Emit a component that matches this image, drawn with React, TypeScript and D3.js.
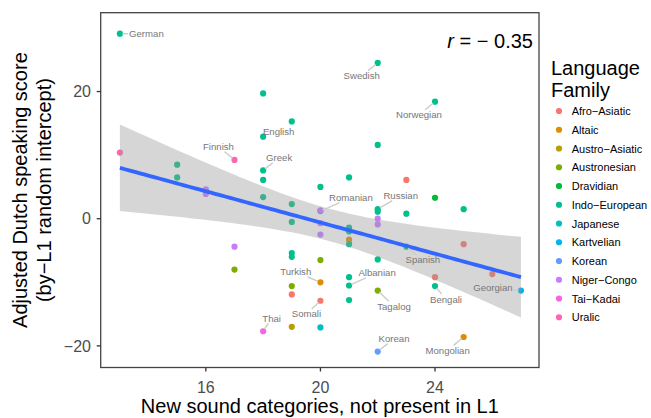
import React from "react";
import * as d3 from "d3";

const families = ["Afro−Asiatic", "Altaic", "Austro−Asiatic", "Austronesian", "Dravidian", "Indo−European", "Japanese", "Kartvelian", "Korean", "Niger−Congo", "Tai−Kadai", "Uralic"];
const familyColors = ["#F8766D", "#DE8C00", "#B79F00", "#7CAE00", "#00BA38", "#00C08B", "#00BFC4", "#00B4F0", "#619CFF", "#C77CFF", "#F564E3", "#FF64B0"];

// new sound categories (x), adjusted score (y), family, label
const soundCats = [13, 13, 15, 15, 16, 16, 17, 17, 17, 18, 18, 18, 18, 18, 18, 19, 19, 19, 19, 19, 19, 19, 19, 20, 20, 20, 20, 20, 20, 20, 20, 20, 21, 21, 21, 21, 21, 21, 21, 21, 22, 22, 22, 22, 22, 22, 22, 22, 22, 23, 23, 23, 24, 24, 24, 24, 25, 25, 25, 26, 27];
const scores = [29.1, 10.4, 8.5, 6.5, 4.6, 3.9, 9.25, -4.4, -8.0, 19.7, 12.9, 7.6, 6.1, 3.4, -17.7, 15.3, 2.3, -0.5, -5.4, -6.0, -10.6, -11.9, -17.0, 5.0, 1.2, 1.3, -0.7, -2.5, -6.5, -10.0, -12.9, -17.1, 6.5, -1.4, -2.0, -3.3, -4.0, -9.2, -10.5, -12.8, 24.5, 11.6, 1.5, 1.1, 0.0, -0.9, -6.4, -11.3, -20.9, 6.1, 0.8, -4.4, 18.4, 3.3, -9.2, -10.6, 1.5, -4.0, -18.6, -8.7, -11.3];
const familyOf = ["Indo−European", "Uralic", "Indo−European", "Indo−European", "Niger−Congo", "Niger−Congo", "Uralic", "Niger−Congo", "Austronesian", "Indo−European", "Indo−European", "Indo−European", "Indo−European", "Indo−European", "Tai−Kadai", "Indo−European", "Indo−European", "Indo−European", "Indo−European", "Indo−European", "Austronesian", "Afro−Asiatic", "Austro−Asiatic", "Indo−European", "Indo−European", "Niger−Congo", "Niger−Congo", "Niger−Congo", "Austronesian", "Altaic", "Afro−Asiatic", "Japanese", "Indo−European", "Indo−European", "Indo−European", "Altaic", "Indo−European", "Indo−European", "Indo−European", "Indo−European", "Indo−European", "Indo−European", "Indo−European", "Indo−European", "Niger−Congo", "Niger−Congo", "Indo−European", "Austronesian", "Korean", "Afro−Asiatic", "Indo−European", "Indo−European", "Indo−European", "Dravidian", "Afro−Asiatic", "Indo−European", "Indo−European", "Afro−Asiatic", "Altaic", "Afro−Asiatic", "Kartvelian"];
const langNames = ["German", "", "", "", "", "", "Finnish", "", "", "", "English", "Greek", "", "", "Thai", "", "", "", "", "", "", "", "", "", "Romanian", "", "", "", "", "Turkish", "Somali", "", "", "", "", "", "", "", "Albanian", "", "Swedish", "", "Russian", "", "", "", "", "Tagalog", "Korean", "", "", "Spanish", "Norwegian", "", "", "Bengali", "", "", "Mongolian", "", "Georgian"];

const xTicks = [16, 20, 24];
const yTicks = [-20, 0, 20];
const corrText = "−0.35";

// label placement offsets (pixels, relative to point)
const labelOffsets: Record<string, [number, number]> = {
  German: [26.5, 0], Finnish: [-16, -13.3], English: [15.5, -5], Greek: [16, -12.4],
  Swedish: [-16, 12.7], Norwegian: [-16, 13], Romanian: [30.5, -13.4], Russian: [23, -13.6],
  Spanish: [16.5, 13.3], Albanian: [28, -12.6], Turkish: [-24.7, -10.3], Somali: [-14, 13.3],
  Thai: [8.5, -13], Tagalog: [16.3, 15.7], Korean: [16.3, -13], Bengali: [11, 13],
  Georgian: [-28, -3], Mongolian: [-16, 13.4],
};

const FONT = "'Liberation Sans', Arial, Helvetica, sans-serif";
const LABEL_SIZE = 9.6;

function tQuantile975(df: number) {
  const z = 1.959964;
  return z + (z ** 3 + z) / (4 * df) + (5 * z ** 5 + 16 * z ** 3 + 3 * z) / (96 * df * df);
}

let ctx: CanvasRenderingContext2D | null = null;
function textWidth(s: string, size: number) {
  if (!ctx) ctx = document.createElement("canvas").getContext("2d");
  if (!ctx) return s.length * size * 0.5;
  ctx.font = `${size}px 'Liberation Sans', Arial, sans-serif`;
  return ctx.measureText(s).width;
}

export default function App() {
  const W = 651, H = 418;
  const pL = 100.7, pR = 539, pT = 12.7, pB = 367.5;
  const x = d3.scaleLinear().domain([12.33, 27.63]).range([pL, pR]);
  const y = d3.scaleLinear().domain([-23.4, 32.4]).range([pB, pT]);
  const color = d3.scaleOrdinal<string, string>().domain(families).range(familyColors);

  const pts = soundCats.map((sx, i) => ({ x: sx, y: scores[i], fam: familyOf[i], name: langNames[i] }));

  // linear fit with 95% CI
  const n = pts.length;
  const xm = d3.mean(pts, (d) => d.x)!;
  const ym = d3.mean(pts, (d) => d.y)!;
  const sxx = d3.sum(pts, (d) => (d.x - xm) ** 2);
  const sxy = d3.sum(pts, (d) => (d.x - xm) * (d.y - ym));
  const b = sxy / sxx;
  const a = ym - b * xm;
  const sse = d3.sum(pts, (d) => (d.y - (a + b * d.x)) ** 2);
  const s = Math.sqrt(sse / (n - 2));
  const tq = tQuantile975(n - 2);
  const [xmin, xmax] = d3.extent(pts, (d) => d.x) as [number, number];
  const grid = d3.range(0, 81).map((k) => xmin + ((xmax - xmin) * k) / 80);
  const fit = grid.map((gx) => {
    const f = a + b * gx;
    const se = s * Math.sqrt(1 / n + (gx - xm) ** 2 / sxx);
    return { x: gx, f, lo: f - tq * se, hi: f + tq * se };
  });
  const area = d3.area<typeof fit[0]>().x((d) => x(d.x)).y0((d) => y(d.lo)).y1((d) => y(d.hi));
  const line = d3.line<typeof fit[0]>().x((d) => x(d.x)).y((d) => y(d.f));

  const labels = pts.filter((d) => d.name).map((d) => {
    const px = x(d.x), py = y(d.y);
    const off = labelOffsets[d.name] || [10, -10];
    const cx = px + off[0], cy = py + off[1];
    const hw = textWidth(d.name, LABEL_SIZE) / 2 + 1, hh = 5;
    const dx = px - cx, dy = py - cy;
    const t = Math.min(dx !== 0 ? hw / Math.abs(dx) : Infinity, dy !== 0 ? hh / Math.abs(dy) : Infinity);
    const ex = cx + dx * Math.min(t, 1), ey = cy + dy * Math.min(t, 1);
    const len = Math.hypot(ex - px, ey - py);
    const sx0 = px + ((ex - px) / (len || 1)) * 2.5, sy0 = py + ((ey - py) / (len || 1)) * 2.5;
    return { name: d.name, cx, cy, seg: len > 6 && t < 1 ? [sx0, sy0, ex, ey] : null };
  });

  const legendY0 = 111, legendStep = 18.75;

  return (
    <svg width={W} height={H} style={{ position: "absolute", left: 0, top: 0, background: "#fff" }} fontFamily={FONT}>
      <rect x={0} y={0} width={W} height={H} fill="#fff" />
      {/* points */}
      {pts.map((d, i) => (
        <circle key={i} cx={x(d.x)} cy={y(d.y)} r={3.1} fill={color(d.fam)} />
      ))}
      {/* smooth */}
      <path d={area(fit)!} fill="#999999" fillOpacity={0.4} />
      <path d={line(fit)!} fill="none" stroke="#3366FF" strokeWidth={3.8} />
      {/* label segments + text */}
      {labels.map((l) =>
        l.seg ? (
          <line key={"s" + l.name} x1={l.seg[0]} y1={l.seg[1]} x2={l.seg[2]} y2={l.seg[3]} stroke="#cccccc" strokeWidth={1.4} />
        ) : null
      )}
      {labels.map((l) => (
        <text key={"t" + l.name} x={l.cx} y={l.cy + 3.4} fontSize={LABEL_SIZE} fill="#777777" textAnchor="middle">
          {l.name}
        </text>
      ))}
      {/* correlation */}
      <text x={533} y={48} fontSize={20} textAnchor="end" fill="#000">
        <tspan fontStyle="italic">r</tspan> = {corrText.replace("−", "− ")}
      </text>
      {/* panel border */}
      <rect x={pL} y={pT} width={pR - pL} height={pB - pT} fill="none" stroke="#444" strokeWidth={1.3} />
      {/* axes ticks */}
      {xTicks.map((t) => (
        <g key={"xt" + t}>
          <line x1={x(t)} x2={x(t)} y1={pB} y2={pB + 4} stroke="#333" strokeWidth={1.3} />
          <text x={x(t)} y={393} fontSize={16} fill="#4d4d4d" textAnchor="middle">{t}</text>
        </g>
      ))}
      {yTicks.map((t) => (
        <g key={"yt" + t}>
          <line x1={pL - 4} x2={pL} y1={y(t)} y2={y(t)} stroke="#333" strokeWidth={1.3} />
          <text x={91} y={y(t) + 5.7} fontSize={16} fill="#4d4d4d" textAnchor="end">{t < 0 ? "−" + Math.abs(t) : t}</text>
        </g>
      ))}
      {/* axis titles */}
      <text x={(pL + pR) / 2} y={413} fontSize={20} textAnchor="middle" fill="#000">New sound categories, not present in L1</text>
      <g transform={`translate(0, ${(pT + pB) / 2}) rotate(-90)`}>
        <text x={0} y={27} fontSize={20} textAnchor="middle" fill="#000">Adjusted Dutch speaking score</text>
        <text x={0} y={51} fontSize={20} textAnchor="middle" fill="#000">(by−L1 random intercept)</text>
      </g>
      {/* legend */}
      <text x={551} y={75} fontSize={20} fill="#000">Language</text>
      <text x={551} y={96.5} fontSize={20} fill="#000">Family</text>
      {families.map((f, i) => (
        <g key={f}>
          <circle cx={559} cy={legendY0 + i * legendStep} r={3.1} fill={color(f)} />
          <text x={571.7} y={legendY0 + i * legendStep + 4} fontSize={11} fill="#000">{f}</text>
        </g>
      ))}
    </svg>
  );
}
